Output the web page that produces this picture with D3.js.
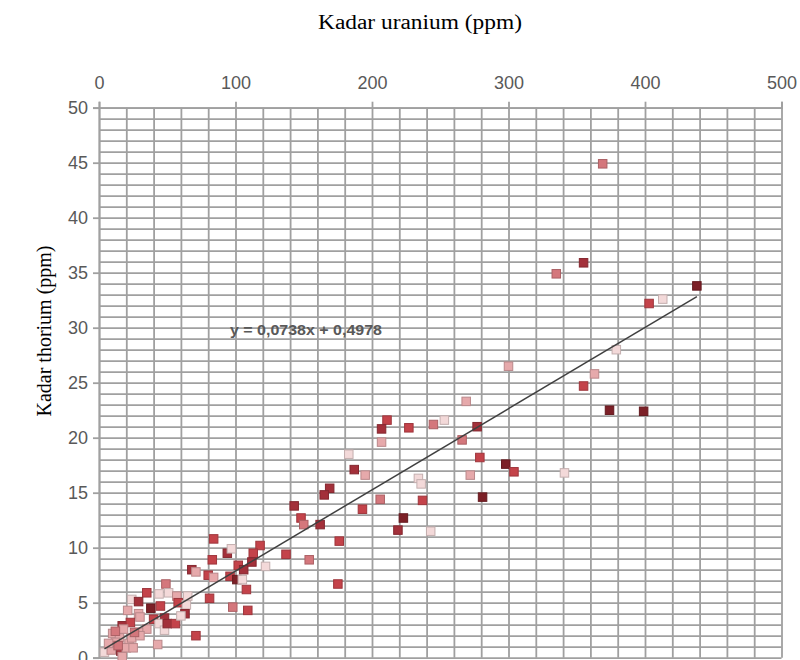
<!DOCTYPE html>
<html>
<head>
<meta charset="utf-8">
<script src="https://cdn.jsdelivr.net/npm/d3@7"></script>
<style>
    body { margin: 0; background: #fff; }
    svg { display: block; }
</style>
</head>
<body>
<svg id="chart" width="800" height="660"></svg>
<script>
// Uranium (x, ppm) and thorium (y, ppm) per sample
const uranium = [
    369, 335, 355, 438, 413, 403, 379, 363, 355, 374, 399, 341,
    300, 269, 211, 207, 227, 245, 253, 277, 207, 266, 183, 279,
    298, 304, 187, 195, 272, 234, 236, 169, 165, 206, 237, 281,
    193, 223, 143, 148, 150, 162, 219, 243, 176, 137, 154, 175,
    84, 94, 97, 118, 113, 83, 102, 106, 112, 122, 68, 71,
    80, 84, 96, 101, 105, 108, 81, 98, 109, 71, 43, 49,
    35, 44, 51, 57, 65, 24, 29, 38, 45, 58, 64, 63,
    21, 29, 40, 48, 44, 48, 50, 17, 23, 35, 29, 10,
    15, 4, 9, 16, 22, 20, 12, 7, 17, 25, 24, 30,
    18, 30, 12, 26, 14, 56, 60
];
const thorium = [
    44.9, 34.9, 35.9, 33.8, 32.6, 32.2, 28.0, 25.8, 24.7, 22.5, 22.4, 16.8,
    26.5, 23.3, 21.6, 20.8, 20.9, 21.2, 21.6, 21.0, 19.6, 19.8, 18.5, 18.2,
    17.6, 16.9, 17.1, 16.6, 16.6, 16.3, 15.8, 15.4, 14.8, 14.4, 14.3, 14.6,
    13.5, 12.7, 13.8, 12.7, 12.1, 12.1, 11.6, 11.5, 10.6, 9.4, 8.9, 6.7,
    10.8, 9.5, 9.9, 10.2, 9.5, 8.9, 8.4, 8.0, 8.7, 8.3, 8.0, 7.8,
    7.5, 7.3, 7.4, 7.1, 7.1, 6.2, 5.4, 4.6, 4.3, 2.0, 1.2, 6.7,
    5.9, 5.8, 5.9, 5.6, 5.6, 5.3, 5.1, 4.5, 4.7, 5.0, 4.8, 4.0,
    4.3, 4.0, 3.5, 3.6, 3.1, 2.5, 3.1, 2.9, 3.2, 2.6, 2.3, 2.2,
    1.8, 0.5, 0.7, 0.6, 1.3, 0.9, 1.4, 1.3, 0.1, 0.9, 1.8, 2.0,
    2.6, 3.7, 2.4, 2.3, 1.1, 3.1, 3.8
];
// Shade group of each point (0 = darkest ... 5 = palest)
const shade = [
    3, 3, 1, 0, 5, 2, 5, 4, 2, 0, 0, 5,
    4, 4, 2, 1, 2, 3, 5, 1, 4, 3, 5, 2,
    0, 2, 1, 4, 4, 5, 5, 1, 1, 3, 2, 0,
    2, 0, 1, 2, 3, 1, 1, 5, 2, 2, 3, 2,
    2, 1, 5, 2, 2, 2, 2, 1, 1, 5, 1, 4,
    2, 4, 2, 0, 5, 2, 2, 3, 2, 2, 4, 3,
    2, 5, 5, 4, 5, 5, 1, 0, 2, 2, 5, 1,
    4, 4, 2, 1, 5, 5, 1, 1, 2, 4, 4, 4,
    4, 5, 4, 1, 4, 4, 4, 4, 4, 4, 4, 4,
    4, 4, 3, 3, 3, 2, 5
];

// Linear trendline from the chart
const trendSlope = 0.0738;
const trendIntercept = 0.4978;
const trendLabel = 'y = 0,0738x + 0,4978';

const xTicks = [0, 100, 200, 300, 400, 500];
const yTicks = [0, 5, 10, 15, 20, 25, 30, 35, 40, 45, 50];

const svg = d3.select('#chart');

// Plot area
const plotLeft = 99, plotRight = 781.5, plotTop = 107.7, plotBottom = 657.7;

const x = d3.scaleLinear().domain([0, 500]).range([plotLeft, plotRight]);
const y = d3.scaleLinear().domain([0, 50]).range([plotBottom, plotTop]);

const gridColor = '#a0a0a0';
const labelFont = '"Liberation Sans", Arial, sans-serif';

// Gridlines (every 20 on x, every 1 on y)
svg.append('g')
    .attr('transform', `translate(0,${plotBottom})`)
    .call(d3.axisBottom(x).tickValues(d3.range(0, 501, 20)).tickSize(-(plotBottom - plotTop)).tickFormat(''))
    .call(g => g.select('.domain').remove())
    .selectAll('line').attr('stroke', gridColor).attr('stroke-width', 1.8);

svg.append('g')
    .attr('transform', `translate(${plotLeft},0)`)
    .call(d3.axisLeft(y).tickValues(d3.range(0, 51, 1)).tickSize(-(plotRight - plotLeft)).tickFormat(''))
    .call(g => g.select('.domain').remove())
    .selectAll('line').attr('stroke', gridColor).attr('stroke-width', 1.8);

// Axes with major ticks and labels
const yAxis = svg.append('g')
    .attr('transform', `translate(${plotLeft},0)`)
    .call(d3.axisLeft(y).tickValues(yTicks).tickSize(6).tickPadding(5).tickFormat(d3.format('d')));

const xAxis = svg.append('g')
    .attr('transform', `translate(0,${plotTop})`)
    .call(d3.axisTop(x).tickValues(xTicks).tickSize(6).tickPadding(13).tickFormat(d3.format('d')));

[xAxis, yAxis].forEach(a => {
    a.select('.domain').attr('stroke', gridColor).attr('stroke-width', 1.8);
    a.selectAll('line').attr('stroke', gridColor).attr('stroke-width', 1.8);
    a.selectAll('text')
        .attr('fill', '#595959')
        .style('font-family', labelFont)
        .style('font-size', '18px');
});

// Points
const colors = d3.scaleOrdinal()
    .domain([0, 1, 2, 3, 4, 5])
    .range(['#7c2027', '#a3303a', '#c4434a', '#d4777c', '#e6a9ab', '#f3d9d9']);

const points = uranium.map((u, i) => ({ u, t: thorium[i], s: shade[i] }));

const size = 8.5;
svg.append('g')
    .selectAll('rect')
    .data(points)
    .enter()
    .append('rect')
    .attr('x', d => x(d.u) - size / 2)
    .attr('y', d => y(d.t) - size / 2)
    .attr('width', size)
    .attr('height', size)
    .attr('fill', d => colors(d.s))
    .attr('stroke', d => d3.color(colors(d.s)).darker(0.6))
    .attr('stroke-width', 1);

// Trendline over the data range
const xMin = d3.min(uranium), xMax = d3.max(uranium);
svg.append('line')
    .attr('x1', x(xMin))
    .attr('y1', y(trendSlope * xMin + trendIntercept))
    .attr('x2', x(xMax))
    .attr('y2', y(trendSlope * xMax + trendIntercept))
    .attr('stroke', '#404040')
    .attr('stroke-width', 1.5);

svg.append('text')
    .attr('x', 306)
    .attr('y', 335)
    .attr('text-anchor', 'middle')
    .attr('textLength', 152)
    .attr('lengthAdjust', 'spacingAndGlyphs')
    .attr('fill', '#595959')
    .style('font-family', labelFont)
    .style('font-size', '14px')
    .style('font-weight', 'bold')
    .text(trendLabel);

// Axis titles
svg.append('text')
    .attr('x', 420)
    .attr('y', 29)
    .attr('text-anchor', 'middle')
    .attr('textLength', 204)
    .attr('lengthAdjust', 'spacingAndGlyphs')
    .attr('fill', '#000')
    .style('font-family', '"Liberation Serif", "Times New Roman", serif')
    .style('font-size', '20px')
    .text('Kadar uranium (ppm)');

svg.append('text')
    .attr('transform', 'translate(51,331) rotate(-90)')
    .attr('text-anchor', 'middle')
    .attr('fill', '#000')
    .style('font-family', '"Liberation Serif", "Times New Roman", serif')
    .style('font-size', '20px')
    .text('Kadar thorium (ppm)');
</script>
</body>
</html>
